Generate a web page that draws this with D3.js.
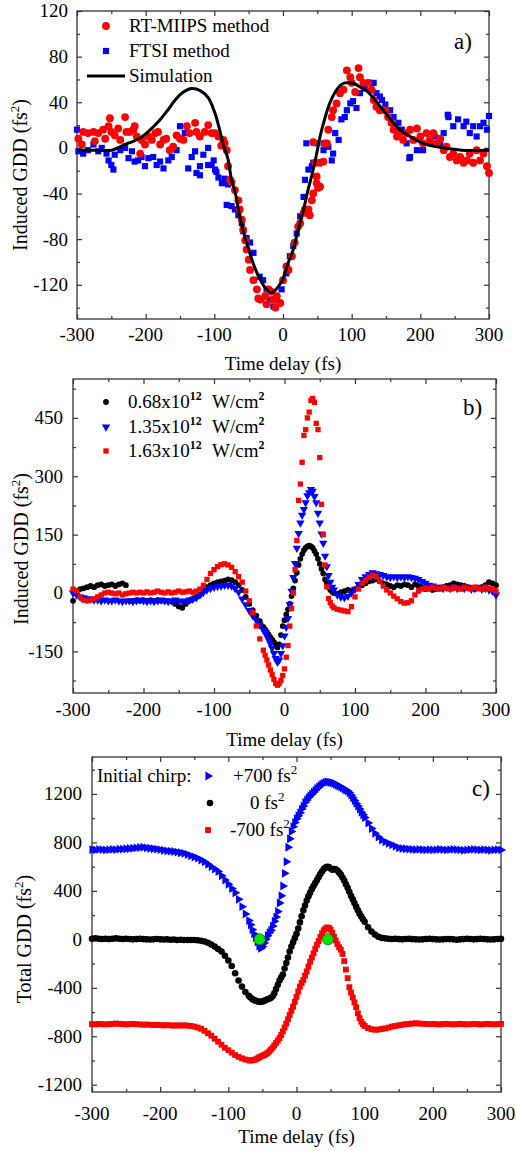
<!DOCTYPE html>
<html><head><meta charset="utf-8">
<script src="https://cdn.jsdelivr.net/npm/d3@7"></script>
<style>
body{margin:0;background:#fff;}
svg{display:block;font-family:"Liberation Serif","Times New Roman",serif;}
</style></head><body>
<svg id="c" width="516" height="1151"></svg>
<script>
// ---------- Panel a data ----------
const xTicks = [-300,-200,-100,0,100,200,300];
const xMinor = [-250,-150,-50,50,150,250];
const aYTicks = [-120,-80,-40,0,40,80,120];
const aYMinor = [-140,-100,-60,-20,20,60,100];
const rtT = [-298,-293,-291,-284,-276,-274,-269,-262,-259,-254,-252,-250,-245,-240,-237,-230,-228,-223,-218,-216,-213,-208,-206,-201,-196,-191,-186,-182,-179,-174,-170,-165,-160,-155,-150,-145,-140,-136,-128,-126,-121,-114,-109,-104,-99,-94,-90,-87,-85,-82,-80,-77,-75,-70,-65,-63,-60,-58,-55,-53,-50,-48,-43,-38,-36,-33,-26,-24,-21,-17,-14,-11,-9,-4,0,5,8,13,17,22,25,30,32,37,39,42,44,44,47,49,49,51,54,54,59,61,64,66,71,73,78,83,88,93,98,100,105,110,112,117,124,129,132,136,141,149,153,158,161,166,170,175,180,185,190,195,200,204,209,214,219,224,229,234,238,243,248,253,258,263,268,272,277,282,287,292,297,300];
const rtV = [8,3,14,13,14,6,13,16,8,19,26,14,11,17,7,27,14,14,16,19,10,-5,7,3,10,7,13,14,3,7,8,-2,1,11,8,7,19,13,22,14,10,14,20,13,13,10,2,7,4,-2,-16,-28,-30,-37,-46,-54,-63,-72,-81,-89,-98,-107,-116,-124,-132,-133,-130,-137,-124,-126,-133,-140,-130,-136,-116,-104,-107,-95,-83,-69,-66,-57,-54,-54,-59,-46,-40,5,-13,-31,-25,-35,-34,-13,-12,4,4,16,27,33,39,48,51,68,62,57,49,70,62,57,57,51,42,36,33,33,27,22,16,10,13,7,13,16,7,17,10,4,13,7,13,4,8,-2,1,-8,-5,-11,-8,-13,-11,-5,-13,-2,-11,-5,-16,-22];
const ftT = [-300,-298,-291,-284,-276,-269,-264,-257,-254,-250,-247,-245,-237,-230,-225,-220,-216,-211,-206,-201,-196,-189,-184,-179,-174,-167,-162,-155,-150,-143,-138,-133,-128,-126,-121,-121,-116,-109,-109,-104,-101,-99,-97,-94,-89,-85,-82,-80,-75,-70,-65,-60,-58,-53,-48,-43,-34,-29,-24,-19,-14,-9,-2,5,10,15,20,25,30,32,34,37,42,44,49,59,59,66,71,73,76,81,85,90,93,98,102,107,112,119,127,132,136,141,144,149,156,161,168,173,180,184,185,195,204,214,221,229,234,240,241,248,255,263,267,272,277,282,287,292,297,300];
const ftV = [16,-3,-5,-2,3,-3,0,-5,-11,-15,-19,-6,-2,0,-9,-3,-12,-11,-8,-16,-9,-8,-15,-12,-18,-11,-8,-2,19,13,-18,-8,-3,-22,-16,-24,-6,0,-15,-15,-11,-19,-21,-26,-31,-27,-50,-32,-51,-54,-59,-66,-73,-79,-83,-92,-113,-116,-124,-133,-139,-133,-124,-110,-95,-86,-75,-60,-43,-28,4,-19,-16,-13,4,-2,4,1,-11,-5,13,7,25,27,33,39,41,35,48,52,57,57,48,45,42,38,33,27,22,16,4,-9,-8,-2,-2,4,10,4,13,29,27,19,25,19,23,13,19,10,19,22,16,28];
const simT = [-300,-275,-250,-230,-210,-195,-180,-168,-157,-145,-133,-120,-109,-100,-94,-87,-80,-75,-70,-63,-57,-50,-43,-36,-28,-22,-16,-10,-5,0,5,10,15,22,30,36,42,48,54,61,68,76,84,90,97,105,113,122,134,146,158,170,185,200,215,233,260,300];
const simV = [-2,-2,-2,3,8,15,24,33,42,49,52,50,44,32,20,3,-10,-28,-38,-60,-75,-89,-102,-112,-121,-125,-127,-124,-120,-115,-105,-97,-89,-72,-54,-38,-24,-8,10,26,39,49,55,57,57,56,53,50,42,33,24,16,10,5,2,0,-2,-2];

// ---------- Panel b data ----------
const bYTicks = [-150,0,150,300,450];
const bYMinor = [-225,-75,75,225,375,525];
const tB = [-300,-295,-290,-285,-280,-275,-270,-265,-260,-255,-250,-245,-240,-235,-230,-225,-220,-215,-210,-205,-200,-195,-190,-185,-180,-175,-170,-165,-160,-155,-150,-145,-140,-135,-130,-125,-120,-115,-110,-105,-100,-95,-90,-85,-80,-75,-70,-65,-60,-55,-50,-45,-40,-35,-30,
 -27.5,-25,-22.5,-20,-17.5,-15,-12.5,-10,-7.5,-5,-2.5,0,2.5,5,7.5,10,12.5,15,17.5,20,22.5,25,27.5,30,32.5,35,37.5,40,42.5,45,47.5,50,52.5,55,57.5,60,62.5,65,67.5,70,
 75,80,85,90,95,100,105,110,115,120,125,130,135,140,145,150,155,160,165,170,175,180,185,190,195,200,205,210,215,220,225,230,235,240,245,250,255,260,265,270,275,280,285,290,295,300];
const b068 = [-20,5,10,12,15,18,15,20,22,18,20,22,18,22,25,20,-20,-20,-18,-20,-18,-20,-18,-20,-18,-20,-20,-20,-22,-28,-35,-38,-28,-20,-15,-10,-5,5,15,20,25,28,30,32,35,33,28,20,8,-10,-28,-44,-58,-72,-87,
 -94,-100,-107,-114,-120,-126,-132,-140,-132,-108,-85,-70,-55,-42,-28,-8,12,32,52,72,88,100,110,116,120,122,120,116,108,100,88,75,62,50,35,25,15,8,3,0,
 -2,2,5,8,5,10,15,20,25,30,32,35,30,25,22,18,15,20,18,22,20,15,22,18,15,10,12,8,10,12,15,18,20,25,22,20,18,15,12,10,12,15,20,28,25,20];
const b135 = [0,-5,-10,-12,-15,-15,-18,-18,-20,-18,-20,-20,-18,-20,-22,-20,-20,-22,-20,-18,-20,-22,-20,-22,-20,-18,-20,-22,-20,-18,-20,-22,-20,-18,-16,-12,-5,2,8,12,15,17,18,20,20,18,12,2,-15,-30,-45,-58,-70,-82,-95,
 -102,-110,-120,-130,-142,-155,-168,-178,-172,-155,-135,-110,-88,-65,-30,5,40,76,115,153,180,200,215,232,250,258,266,262,248,232,205,180,152,128,95,68,45,28,15,8,
 -5,-10,-12,-8,0,10,22,35,42,48,52,50,48,45,42,40,42,40,42,40,42,40,38,35,30,25,20,18,15,15,12,15,12,15,12,15,12,15,10,12,15,10,12,8,5,-5];
const b163 = [10,5,-10,-18,-20,-18,-15,-10,-5,0,2,0,-2,0,-5,-2,0,2,0,2,0,3,0,2,5,2,0,3,0,2,5,2,3,5,2,5,10,20,35,50,60,68,73,75,72,66,55,42,28,5,-20,-50,-85,-118,-147,
 -160,-172,-185,-198,-210,-222,-232,-237,-233,-225,-212,-195,-165,-135,-85,-40,0,60,135,238,280,336,405,420,450,465,495,500,490,436,420,348,228,150,72,16,-14,-25,-33,-38,
 -42,-44,-46,-48,-35,-10,10,25,33,40,46,42,30,18,8,0,-8,-15,-22,-26,-25,-20,-5,5,10,12,10,15,12,10,15,12,10,15,12,10,15,12,10,15,12,10,15,12,10,5];

// ---------- Panel c data ----------
const cYTicks = [-1200,-800,-400,0,400,800,1200];
const cYMinor = [-1000,-600,-200,200,600,1000,1400];
const tC = [-300,-295,-290,-285,-280,-275,-270,-265,-260,-255,-250,-245,-240,-235,-230,-225,-220,-215,-210,-205,-200,-195,-190,-185,-180,-175,-170,-165,-160,-155,-150,-145,-140,-135,-130,-125,-120,-115,-110,-105,-100,-95,-90,-85,-80,-75,-70,
 -67.5,-65,-62.5,-60,-57.5,-55,-52.5,-50,-47.5,-45,-42.5,-40,-37.5,-35,-32.5,-30,-27.5,-25,-22.5,-20,-17.5,-15,-12.5,-10,-7.5,-5,-2.5,0,2.5,5,7.5,10,12.5,15,17.5,20,22.5,25,27.5,30,32.5,35,37.5,40,42.5,45,47.5,50,52.5,55,57.5,60,62.5,65,67.5,70,72.5,75,77.5,80,82.5,85,87.5,90,92.5,95,97.5,100,
 105,110,115,120,125,130,135,140,145,150,155,160,165,170,175,180,185,190,195,200,205,210,215,220,225,230,235,240,245,250,255,260,265,270,275,280,285,290,295,300];
const cPlus700 = [740,738,742,740,738,740,742,740,745,745,748,750,752,755,758,760,755,752,748,745,740,735,730,728,725,720,715,710,700,690,680,670,655,640,620,600,580,560,525,490,455,420,385,330,270,210,155,
 120,80,45,15,-20,-55,-75,-60,-30,0,30,55,75,110,150,185,230,300,360,440,545,640,760,830,890,930,965,995,1020,1045,1075,1100,1130,1150,1170,1185,1200,1215,1230,1245,1258,1270,1280,1288,1295,1300,1298,1295,1292,1288,1280,1272,1265,1258,1250,1240,1232,1225,1210,1190,1168,1145,1122,1100,1075,1050,1028,1005,
 960,915,875,845,820,805,792,780,768,755,750,748,745,742,740,742,740,738,740,738,740,742,740,738,740,742,740,738,735,738,740,742,740,738,740,738,735,738,740,738];
const cZero = [5,8,5,3,5,2,5,8,5,3,5,3,0,2,5,2,0,-2,0,3,0,-2,0,-3,-2,-5,-3,-5,-5,-5,-5,-8,-12,-18,-28,-42,-60,-80,-100,-135,-175,-220,-280,-340,-390,-435,-465,
 -480,-492,-500,-506,-512,-515,-516,-514,-508,-500,-495,-490,-482,-470,-445,-410,-375,-340,-315,-290,-240,-195,-150,-100,-60,-25,10,45,90,140,190,240,280,320,355,385,415,440,465,490,515,540,560,580,592,598,596,585,575,580,578,568,552,535,510,485,455,425,392,360,330,300,270,240,212,188,165,145,
 100,65,40,22,12,8,5,3,5,2,0,3,5,2,0,-2,0,3,5,2,0,-2,0,3,2,0,-3,0,2,5,3,0,2,5,3,0,-2,0,3,5];
const cMinus700 = [-700,-702,-698,-700,-702,-700,-698,-695,-698,-700,-702,-700,-698,-700,-702,-705,-703,-705,-707,-705,-708,-710,-708,-710,-712,-710,-712,-710,-712,-715,-720,-728,-738,-755,-775,-795,-820,-845,-870,-895,-915,-935,-955,-970,-982,-992,-998,
 -1000,-998,-995,-990,-983,-975,-968,-962,-955,-948,-938,-925,-910,-893,-875,-855,-835,-815,-790,-760,-728,-695,-660,-625,-590,-555,-515,-475,-430,-390,-360,-335,-300,-265,-225,-185,-150,-115,-80,-45,-15,20,50,75,90,98,95,80,55,20,-10,-40,-65,-85,-120,-180,-250,-320,-395,-440,-480,-520,-560,-610,-650,-680,-700,-715,
 -732,-742,-746,-745,-740,-735,-728,-720,-715,-710,-705,-700,-698,-695,-693,-695,-697,-698,-700,-698,-700,-702,-700,-698,-700,-702,-700,-698,-700,-702,-700,-698,-700,-702,-700,-698,-700,-702,-700,-698];
const greenT = [-54, 46];
const greenV = [0, 0];

// ---------- drawing ----------
const RED = "#ff0000", BLUE = "#0000ff", BLACK = "#000000";
const svg = d3.select("#c");
const zip = (a, b) => a.map((v, i) => [v, b[i]]);

function panel(cfg) {
  const g = svg.append("g");
  const x = d3.scaleLinear().domain([-300, 300]).range([cfg.L, cfg.R]);
  const y = d3.scaleLinear().domain(cfg.yDom).range([cfg.B, cfg.T]);
  const mk = (axisFn, scale, vals, size, tr) => {
    const a = g.append("g").attr("transform", tr)
      .call(axisFn(scale).tickValues(vals).tickSizeInner(-size).tickSizeOuter(0).tickFormat(""));
    a.select(".domain").remove();
    a.selectAll("line").attr("stroke", "#333").attr("stroke-width", 1.2);
  };
  [[xTicks, 5], [xMinor, 3]].forEach(([v, s]) => {
    mk(d3.axisBottom, x, v, s, `translate(0,${cfg.B})`);
    mk(d3.axisTop, x, v, s, `translate(0,${cfg.T})`);
  });
  [[cfg.yMaj, 5], [cfg.yMin, 3]].forEach(([v, s]) => {
    mk(d3.axisLeft, y, v, s, `translate(${cfg.L},0)`);
    mk(d3.axisRight, y, v, s, `translate(${cfg.R},0)`);
  });
  g.append("rect").attr("x", cfg.L).attr("y", cfg.T).attr("width", cfg.R - cfg.L).attr("height", cfg.B - cfg.T)
    .attr("fill", "none").attr("stroke", "#333").attr("stroke-width", 1.3);
  g.append("g").selectAll("text").data(xTicks).join("text")
    .attr("x", d => x(d)).attr("y", cfg.B + cfg.xLab).attr("text-anchor", "middle").attr("font-size", 19)
    .text(d => String(d));
  g.append("g").selectAll("text").data(cfg.yMaj).join("text")
    .attr("x", cfg.L - cfg.yLab).attr("y", d => y(d)).attr("dy", "0.34em").attr("text-anchor", "end").attr("font-size", 19)
    .text(d => String(d));
  g.append("text").attr("x", (cfg.L + cfg.R) / 2).attr("y", cfg.xTitle).attr("text-anchor", "middle").attr("font-size", 19)
    .text("Time delay (fs)");
  const t = g.append("text").attr("transform", `translate(${cfg.yTitleX},${cfg.yTitleY}) rotate(-90)`)
    .attr("text-anchor", "middle").attr("font-size", 20);
  t.append("tspan").text(cfg.yTitle + " (fs");
  t.append("tspan").attr("font-size", 13).attr("dy", -8).text("2");
  t.append("tspan").attr("dy", 8).text(")");
  g.append("text").attr("x", cfg.tagX).attr("y", cfg.tagY).attr("font-size", 23).text(cfg.tag);
  return { g, x, y };
}

function marks(p, ts, vs, type, size, color, rot, extra) {
  const sym = d3.symbol().type(type).size(size);
  const sel = p.g.append("g").selectAll("path").data(zip(ts, vs)).join("path")
    .attr("d", sym).attr("fill", color)
    .attr("transform", d => `translate(${p.x(d[0])},${p.y(d[1])}) rotate(${rot || 0})`);
  if (extra) extra(sel);
}
function legSym(g, cx, cy, type, size, color, rot) {
  g.append("path").attr("d", d3.symbol().type(type).size(size)()).attr("fill", color)
    .attr("transform", `translate(${cx},${cy}) rotate(${rot || 0})`);
}

// Panel a
const pa = panel({ L: 77, R: 489, T: 11, B: 319, yDom: [-150, 120], yMaj: aYTicks, yMin: aYMinor,
  xLab: 22, yLab: 9, xTitle: 370, yTitle: "Induced GDD", yTitleX: 27, yTitleY: 175, tag: "a)", tagX: 454, tagY: 49 });
marks(pa, ftT, ftV, d3.symbolSquare, 38, BLUE);
marks(pa, rtT, rtV, d3.symbolCircle, 48, RED);
pa.g.append("path").datum(zip(simT, simV))
  .attr("d", d3.line().x(d => pa.x(d[0])).y(d => pa.y(d[1])).curve(d3.curveCatmullRom.alpha(0.5)))
  .attr("fill", "none").attr("stroke", BLACK).attr("stroke-width", 3);
legSym(pa.g, 106, 26, d3.symbolCircle, 48, RED);
legSym(pa.g, 106, 51, d3.symbolSquare, 38, BLUE);
pa.g.append("line").attr("x1", 87).attr("x2", 125).attr("y1", 76).attr("y2", 76).attr("stroke", BLACK).attr("stroke-width", 3);
[["RT-MIIPS method", 32], ["FTSI method", 57], ["Simulation", 82]].forEach(([s, yy]) =>
  pa.g.append("text").attr("x", 129).attr("y", yy).attr("font-size", 19).text(s));

// Panel b
const pb = panel({ L: 73, R: 496, T: 379, B: 693, yDom: [-257, 550], yMaj: bYTicks, yMin: bYMinor,
  xLab: 23, yLab: 10, xTitle: 746, yTitle: "Induced GDD", yTitleX: 28, yTitleY: 549, tag: "b)", tagX: 463, tagY: 415 });
marks(pb, tB, b068, d3.symbolCircle, 26, BLACK);
marks(pb, tB, b135, d3.symbolTriangle, 30, BLUE, 180);
marks(pb, tB, b163, d3.symbolSquare, 28, RED);
legSym(pb.g, 106, 402, d3.symbolCircle, 26, BLACK);
legSym(pb.g, 106, 427, d3.symbolTriangle, 30, BLUE, 180);
legSym(pb.g, 106, 451, d3.symbolSquare, 28, RED);
[["0.68x10", 408], ["1.35x10", 433], ["1.63x10", 457]].forEach(([s, yy]) => {
  const t = pb.g.append("text").attr("x", 128).attr("y", yy).attr("font-size", 19);
  t.append("tspan").text(s);
  t.append("tspan").attr("font-size", 12).attr("font-weight", "bold").attr("dy", -8).text("12");
  const w = pb.g.append("text").attr("x", 212).attr("y", yy).attr("font-size", 19);
  w.append("tspan").text("W/cm");
  w.append("tspan").attr("font-size", 12).attr("font-weight", "bold").attr("dy", -8).text("2");
});

// Panel c
const pc = panel({ L: 92, R: 501, T: 757, B: 1092, yDom: [-1260, 1505], yMaj: cYTicks, yMin: cYMinor,
  xLab: 28, yLab: 10, xTitle: 1143, yTitle: "Total GDD", yTitleX: 31, yTitleY: 939, tag: "c)", tagX: 472, tagY: 796 });
marks(pc, tC, cPlus700, d3.symbolTriangle, 34, BLUE, 90);
marks(pc, tC, cZero, d3.symbolCircle, 34, BLACK);
marks(pc, tC, cMinus700, d3.symbolSquare, 34, RED);
marks(pc, greenT, greenV, d3.symbolCircle, 95, "#00e600", 0, s => s.attr("stroke", "#007a00").attr("stroke-width", 0.8));
pc.g.append("text").attr("x", 97).attr("y", 782).attr("font-size", 19).text("Initial chirp:");
legSym(pc.g, 208, 776, d3.symbolTriangle, 34, BLUE, 90);
legSym(pc.g, 210, 803, d3.symbolCircle, 34, BLACK);
legSym(pc.g, 208, 830, d3.symbolSquare, 34, RED);
[["+700 fs", 233, 782], ["0 fs", 250, 809], ["-700 fs", 230, 836]].forEach(([s, xx, yy]) => {
  const t = pc.g.append("text").attr("x", xx).attr("y", yy).attr("font-size", 19);
  t.append("tspan").text(s);
  t.append("tspan").attr("font-size", 13).attr("dy", -8).text("2");
});
</script></body></html>
